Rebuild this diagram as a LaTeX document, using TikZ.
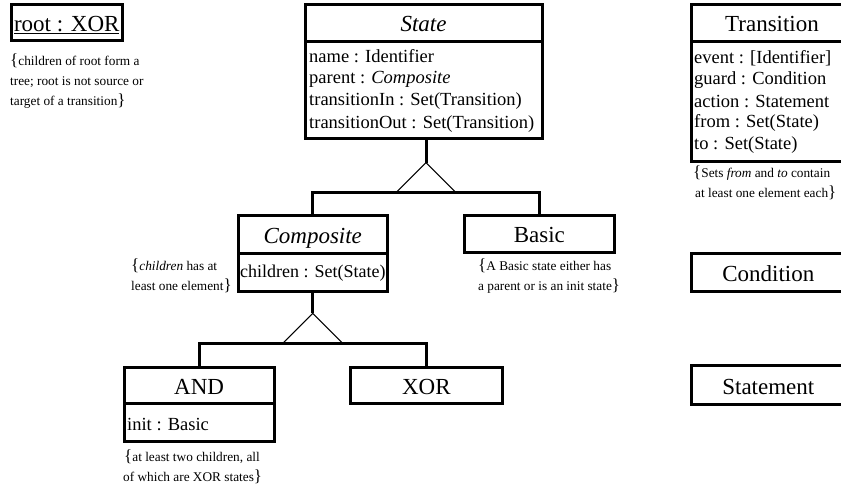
\documentclass[tikz,border=0pt]{standalone}
\usepackage{fontspec}
\setmainfont{Liberation Serif}
\newcommand{\myLB}{{\fontsize{17}{17}\selectfont\{}}
\newcommand{\myRB}{{\fontsize{17}{17}\selectfont\}}}
\begin{document}
\begin{tikzpicture}[x=1pt,y=-1pt,
  box/.style={draw, line width=3pt, anchor=north west, inner sep=0pt, outer sep=0pt},
  hdr/.style={box, font=\fontsize{23}{27}\selectfont, text height=18pt, text depth=0pt},
  attr/.style={anchor=base west, inner sep=0pt, font=\fontsize{18.5}{22}\selectfont},
  note/.style={anchor=base west, inner sep=0pt, font=\fontsize{13.3}{16}\selectfont},
  conn/.style={line width=3pt},
  tri/.style={line width=1pt}]
\useasboundingbox (0,0) rectangle (841,489);
\clip (0,0) rectangle (841,489);
\fill[white] (0,0) rectangle (841,489);

% root : XOR
\node[hdr, minimum width=111.5pt, minimum height=36.7pt] (roothead) at (11,4.3) {\underline{root : XOR}};
\node[note] (rn1) at (10,66) {\myLB children of root form a};
\node[note] (rn2) at (10,86) {tree; root is not source or};
\node[note] (rn3) at (10,105.7) {target of a transition\myRB};

% State
\node[hdr, minimum width=237pt, minimum height=37.4pt] (statehead) at (305,4.3) {\textit{State}};
\node[box, minimum width=237pt, minimum height=97.3pt] (statebody) at (305,41.7) {};
\node[attr] (sa1) at (309,62.5) {name : Identifier};
\node[attr] (sa2) at (309,83.5) {parent : \textit{Composite}};
\node[attr] (sa3) at (309,105.5) {transitionIn : Set(Transition)};
\node[attr] (sa4) at (309,128.5) {transitionOut : Set(Transition)};

% Transition
\node[hdr, minimum width=162pt, minimum height=37.4pt] (transhead) at (691,4.3) {Transition};
\node[box, minimum width=162pt, minimum height=120pt] (transbody) at (691,41.7) {};
\node[attr] (ta1) at (694,63.5) {event : [Identifier]};
\node[attr] (ta2) at (694,85) {guard : Condition};
\node[attr] (ta3) at (694,107.5) {action : Statement};
\node[attr] (ta4) at (694,127.5) {from : Set(State)};
\node[attr] (ta5) at (694,150) {to : Set(State)};
\node[note] (tn1) at (693,177.3) {\myLB Sets \textit{from} and \textit{to} contain};
\node[note] (tn2) at (695,197.3) {at least one element each\myRB};

% Condition, Statement
\node[hdr, minimum width=154pt, minimum height=37.3pt] (cond) at (691.3,253.7) {Condition};
\node[hdr, minimum width=154pt, minimum height=38.6pt] (stmt) at (691.3,365.7) {Statement};

% Composite
\node[hdr, minimum width=149.5pt, minimum height=37.6pt] (comphead) at (238,215.7) {\textit{Composite}};
\node[box, minimum width=149.5pt, minimum height=37.7pt] (compbody) at (238,253.3) {};
\node[attr, font=\fontsize{18}{22}\selectfont] (ca1) at (240,277.3) {children : Set(State)};
\node[note] (cn1) at (131,270) {\myLB\textit{children} has at};
\node[note] (cn2) at (131,290.7) {least one element\myRB};

% Basic
\node[hdr, minimum width=150.7pt, minimum height=36.6pt] (basichead) at (464,215.7) {Basic};
\node[note] (bn1) at (478,270.7) {\myLB A Basic state either has};
\node[note] (bn2) at (478,290.7) {a parent or is an init state\myRB};

% AND
\node[hdr, minimum width=150.3pt, minimum height=36.7pt] (andhead) at (124,367) {AND};
\node[box, minimum width=150.3pt, minimum height=38pt] (andbody) at (124,403.7) {};
\node[attr] (aa1) at (127,430) {init : Basic};
\node[note] (an1) at (124,461) {\myLB at least two children, all};
\node[note] (an2) at (123,481) {of which are XOR states\myRB};

% XOR
\node[hdr, minimum width=151.3pt, minimum height=36.7pt] (xorhead) at (350.7,367) {XOR};

% generalisation State -> Composite, Basic
\coordinate (tri1) at (426,162.7);
\coordinate (bar1) at (426,192.7);
\coordinate (bar1l) at (396,192.7);
\coordinate (bar1r) at (456,192.7);
\draw[conn] (statebody.south -| tri1) -- (tri1);
\draw[tri] (bar1l) -- (tri1) -- (bar1r);
\draw[conn] (comphead.north) |- (bar1) -| (basichead.north);

% generalisation Composite -> AND, XOR
\coordinate (tri2) at (312.75,313.3);
\coordinate (bar2) at (312.75,343.3);
\coordinate (bar2l) at (282.75,343.3);
\coordinate (bar2r) at (342.75,343.3);
\draw[conn] (compbody.south) -- (tri2);
\draw[tri] (bar2l) -- (tri2) -- (bar2r);
\draw[conn] (andhead.north) |- (bar2) -| (xorhead.north);
\end{tikzpicture}
\end{document}
